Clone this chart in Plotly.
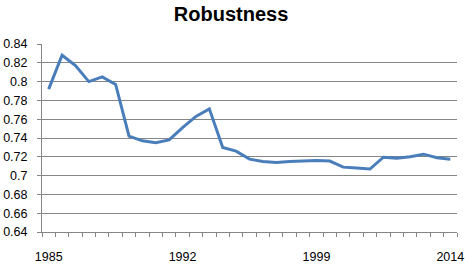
import plotly.graph_objects as go

# Data (31 categories, labels shown on every 10th)
values = [0.792, 0.828, 0.817, 0.800, 0.805, 0.797, 0.742, 0.737, 0.735, 0.738,
          0.751, 0.763, 0.771, 0.730, 0.726, 0.7175, 0.715, 0.714, 0.715, 0.7155,
          0.716, 0.7155, 0.709, 0.708, 0.707, 0.7196, 0.7186, 0.720, 0.7228, 0.719,
          0.7175]
x_label_text = ["1985", "1992", "1999", "2014"]
x_label_index = [0, 10, 20, 30]
y_ticks = [0.64, 0.66, 0.68, 0.70, 0.72, 0.74, 0.76, 0.78, 0.80, 0.82, 0.84]
y_tick_text = ["0.64", "0.66", "0.68", "0.7", "0.72", "0.74", "0.76", "0.78", "0.8", "0.82", "0.84"]

idx = list(range(len(values)))
boundaries = [i - 0.5 for i in range(len(values) + 1)]

grid = "#868686"
fig = go.Figure()
fig.add_trace(go.Scatter(x=idx, y=values, mode="lines",
                         line=dict(color="#4A7EBB", width=3)))

fig.update_layout(
    width=465, height=267,
    margin=dict(l=42, r=8, t=44, b=35),
    paper_bgcolor="white", plot_bgcolor="white",
    showlegend=False,
    font=dict(family="Liberation Sans, Arial, sans-serif", size=12.5, color="black"),
    title=dict(text="<b>Robustness</b>", x=0.497, xanchor="center",
               yref="container", y=1 - 13.5 / 267, yanchor="middle",
               font=dict(size=20, color="black")),
)
fig.update_xaxes(
    range=[-0.5, len(values) - 0.5],
    tickvals=x_label_index, ticktext=x_label_text,
    ticks="", ticklabelstandoff=13, automargin=False,
    showgrid=False, zeroline=False,
    showline=True, linecolor=grid, linewidth=1,
    minor=dict(tickvals=boundaries, ticks="outside", ticklen=4, tickcolor=grid, showgrid=False),
)
fig.update_yaxes(
    range=[0.64, 0.84],
    tickvals=y_ticks, ticktext=y_tick_text, automargin=False,
    ticks="outside", ticklen=4, tickcolor=grid, ticklabelstandoff=7,
    showgrid=True, gridcolor=grid, gridwidth=1,
    zeroline=False, showline=True, linecolor=grid, linewidth=1,
)

fig.write_html("out.html")
